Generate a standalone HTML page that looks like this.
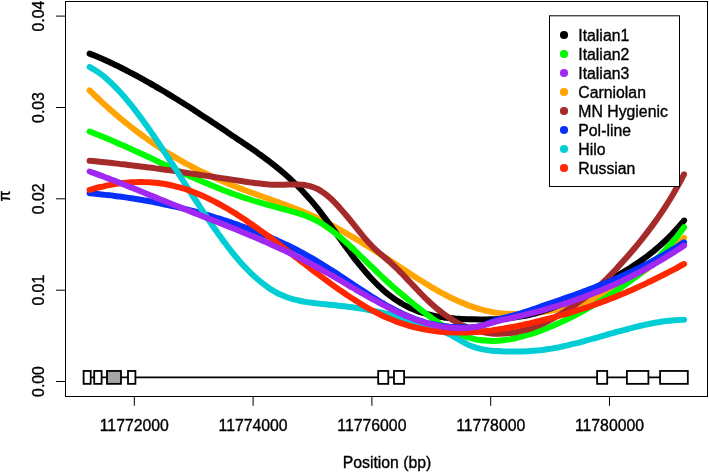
<!DOCTYPE html>
<html><head><meta charset="utf-8"><title>plot</title>
<style>
html,body{margin:0;padding:0;background:#fff;}
svg{display:block;will-change:transform;}
text{font-family:"Liberation Sans",sans-serif;font-size:15.8px;fill:#000;stroke:#000;stroke-width:0.35px;}
</style></head><body>
<svg width="709" height="473" viewBox="0 0 709 473">
<rect width="709" height="473" fill="#fff"/>
<g fill="none" stroke-width="6.0" stroke-linecap="round" stroke-linejoin="round">
<path d="M89.6 90.4C90.6 91.4 93.6 94.3 95.6 96.2C97.6 98.1 99.6 100.0 101.6 101.8C103.6 103.7 105.6 105.5 107.6 107.3C109.6 109.1 111.6 110.8 113.6 112.6C115.6 114.3 117.6 116.0 119.6 117.7C121.6 119.4 123.6 121.0 125.6 122.6C127.6 124.2 129.6 125.8 131.6 127.4C133.6 129.0 135.6 130.5 137.6 132.0C139.6 133.5 141.6 135.0 143.6 136.5C145.6 137.9 147.6 139.4 149.6 140.8C151.6 142.2 153.6 143.6 155.6 144.9C157.6 146.3 159.6 147.6 161.6 148.9C163.6 150.2 165.6 151.5 167.6 152.7C169.6 154.0 171.6 155.2 173.6 156.4C175.6 157.6 177.6 158.7 179.6 159.9C181.6 161.0 183.6 162.2 185.6 163.3C187.6 164.4 189.6 165.4 191.6 166.5C193.6 167.5 195.6 168.6 197.6 169.6C199.6 170.6 201.6 171.6 203.6 172.6C205.6 173.5 207.6 174.5 209.6 175.4C211.6 176.4 213.6 177.3 215.6 178.2C217.6 179.1 219.6 180.0 221.6 180.8C223.6 181.7 225.6 182.5 227.6 183.4C229.6 184.2 231.6 185.0 233.6 185.8C235.6 186.6 237.6 187.4 239.6 188.2C241.6 188.9 243.6 189.7 245.6 190.5C247.6 191.2 249.6 191.9 251.6 192.7C253.6 193.4 255.6 194.1 257.6 194.9C259.6 195.6 261.6 196.3 263.6 197.0C265.6 197.7 267.6 198.4 269.6 199.1C271.6 199.9 273.6 200.6 275.6 201.3C277.6 202.0 279.6 202.8 281.6 203.5C283.6 204.2 285.6 205.0 287.6 205.7C289.6 206.5 291.6 207.2 293.6 208.0C295.6 208.8 297.6 209.6 299.6 210.4C301.6 211.2 303.6 212.0 305.6 212.9C307.6 213.7 309.6 214.6 311.6 215.5C313.6 216.4 315.6 217.3 317.6 218.2C319.6 219.2 321.6 220.1 323.6 221.1C325.6 222.1 327.6 223.1 329.6 224.2C331.6 225.2 333.6 226.3 335.6 227.3C337.6 228.4 339.6 229.5 341.6 230.6C343.6 231.8 345.6 232.9 347.6 234.1C349.6 235.2 351.6 236.4 353.6 237.6C355.6 238.8 357.6 240.0 359.6 241.2C361.6 242.4 363.6 243.6 365.6 244.9C367.6 246.1 369.6 247.4 371.6 248.7C373.6 249.9 375.6 251.2 377.6 252.5C379.6 253.8 381.6 255.1 383.6 256.4C385.6 257.7 387.6 259.0 389.6 260.3C391.6 261.6 393.6 262.9 395.6 264.2C397.6 265.5 399.6 266.9 401.6 268.2C403.6 269.5 405.6 270.8 407.6 272.1C409.6 273.4 411.6 274.7 413.6 276.0C415.6 277.3 417.6 278.6 419.6 279.8C421.6 281.1 423.6 282.3 425.6 283.5C427.6 284.8 429.6 286.0 431.6 287.2C433.6 288.3 435.6 289.5 437.6 290.6C439.6 291.8 441.6 292.9 443.6 293.9C445.6 295.0 447.6 296.1 449.6 297.1C451.6 298.1 453.6 299.0 455.6 300.0C457.6 300.9 459.6 301.8 461.6 302.6C463.6 303.5 465.6 304.3 467.6 305.1C469.6 305.8 471.6 306.5 473.6 307.2C475.6 307.9 477.6 308.5 479.6 309.0C481.6 309.6 483.6 310.1 485.6 310.6C487.6 311.1 489.6 311.5 491.6 311.9C493.6 312.3 495.6 312.6 497.6 312.9C499.6 313.1 501.6 313.4 503.6 313.6C505.6 313.7 507.6 313.9 509.6 314.0C511.6 314.1 513.6 314.1 515.6 314.1C517.6 314.1 519.6 314.1 521.6 314.0C523.6 313.9 525.6 313.8 527.6 313.7C529.6 313.5 531.6 313.4 533.6 313.1C535.6 312.9 537.6 312.7 539.6 312.4C541.6 312.2 543.6 311.9 545.6 311.6C547.6 311.3 549.6 310.9 551.6 310.5C553.6 310.2 555.6 309.8 557.6 309.3C559.6 308.9 561.6 308.5 563.6 308.0C565.6 307.5 567.6 307.0 569.6 306.4C571.6 305.9 573.6 305.3 575.6 304.7C577.6 304.1 579.6 303.5 581.6 302.8C583.6 302.2 585.6 301.5 587.6 300.7C589.6 300.0 591.6 299.3 593.6 298.5C595.6 297.7 597.6 296.8 599.6 296.0C601.6 295.1 603.6 294.2 605.6 293.3C607.6 292.4 609.6 291.4 611.6 290.4C613.6 289.4 615.6 288.4 617.6 287.4C619.6 286.3 621.6 285.2 623.6 284.1C625.6 282.9 627.6 281.7 629.6 280.5C631.6 279.3 633.6 278.1 635.6 276.8C637.6 275.5 639.6 274.2 641.6 272.8C643.6 271.5 645.6 270.1 647.6 268.6C649.6 267.2 651.6 265.7 653.6 264.2C655.6 262.7 657.6 261.1 659.6 259.5C661.6 257.9 663.6 256.3 665.6 254.6C667.6 252.9 669.6 251.2 671.6 249.5C673.6 247.7 675.6 245.9 677.6 244.0C679.6 242.2 682.6 239.4 683.6 238.4C684.6 237.4 683.9 238.1 683.9 238.1" stroke="#FFA400"/>
<path d="M89.6 53.6C90.6 54.0 93.6 55.2 95.6 56.0C97.6 56.9 99.6 57.7 101.6 58.6C103.6 59.5 105.6 60.4 107.6 61.3C109.6 62.2 111.6 63.2 113.6 64.1C115.6 65.1 117.6 66.0 119.6 67.0C121.6 68.0 123.6 69.0 125.6 70.0C127.6 71.0 129.6 72.1 131.6 73.1C133.6 74.2 135.6 75.3 137.6 76.3C139.6 77.4 141.6 78.5 143.6 79.6C145.6 80.7 147.6 81.9 149.6 83.0C151.6 84.1 153.6 85.3 155.6 86.5C157.6 87.6 159.6 88.8 161.6 90.0C163.6 91.2 165.6 92.4 167.6 93.6C169.6 94.8 171.6 96.0 173.6 97.3C175.6 98.5 177.6 99.7 179.6 101.0C181.6 102.2 183.6 103.5 185.6 104.8C187.6 106.0 189.6 107.3 191.6 108.6C193.6 109.9 195.6 111.2 197.6 112.5C199.6 113.8 201.6 115.1 203.6 116.4C205.6 117.7 207.6 119.0 209.6 120.3C211.6 121.7 213.6 123.0 215.6 124.3C217.6 125.7 219.6 127.0 221.6 128.3C223.6 129.7 225.6 131.0 227.6 132.4C229.6 133.7 231.6 135.1 233.6 136.4C235.6 137.8 237.6 139.1 239.6 140.5C241.6 141.8 243.6 143.2 245.6 144.5C247.6 145.9 249.6 147.3 251.6 148.6C253.6 150.0 255.6 151.4 257.6 152.8C259.6 154.3 261.6 155.7 263.6 157.2C265.6 158.6 267.6 160.1 269.6 161.7C271.6 163.2 273.6 164.8 275.6 166.4C277.6 168.0 279.6 169.6 281.6 171.3C283.6 173.0 285.6 174.8 287.6 176.6C289.6 178.4 291.6 180.2 293.6 182.1C295.6 184.0 297.6 186.0 299.6 188.0C301.6 190.1 303.6 192.2 305.6 194.4C307.6 196.6 309.6 198.8 311.6 201.1C313.6 203.5 315.6 205.9 317.6 208.4C319.6 210.9 321.6 213.5 323.6 216.2C325.6 218.8 327.6 221.5 329.6 224.3C331.6 227.0 333.6 229.8 335.6 232.6C337.6 235.4 339.6 238.2 341.6 241.0C343.6 243.8 345.6 246.6 347.6 249.3C349.6 252.0 351.6 254.7 353.6 257.3C355.6 259.9 357.6 262.4 359.6 264.9C361.6 267.4 363.6 269.7 365.6 272.0C367.6 274.3 369.6 276.6 371.6 278.7C373.6 280.8 375.6 282.9 377.6 284.8C379.6 286.8 381.6 288.6 383.6 290.4C385.6 292.2 387.6 293.8 389.6 295.4C391.6 296.9 393.6 298.4 395.6 299.8C397.6 301.1 399.6 302.4 401.6 303.5C403.6 304.7 405.6 305.8 407.6 306.8C409.6 307.8 411.6 308.7 413.6 309.5C415.6 310.4 417.6 311.1 419.6 311.8C421.6 312.5 423.6 313.1 425.6 313.7C427.6 314.3 429.6 314.8 431.6 315.2C433.6 315.7 435.6 316.1 437.6 316.4C439.6 316.8 441.6 317.1 443.6 317.4C445.6 317.6 447.6 317.9 449.6 318.1C451.6 318.3 453.6 318.4 455.6 318.6C457.6 318.7 459.6 318.8 461.6 318.9C463.6 319.0 465.6 319.1 467.6 319.2C469.6 319.2 471.6 319.3 473.6 319.3C475.6 319.4 477.6 319.4 479.6 319.4C481.6 319.5 483.6 319.5 485.6 319.4C487.6 319.4 489.6 319.4 491.6 319.3C493.6 319.3 495.6 319.2 497.6 319.1C499.6 319.0 501.6 318.9 503.6 318.7C505.6 318.5 507.6 318.4 509.6 318.1C511.6 317.9 513.6 317.7 515.6 317.4C517.6 317.1 519.6 316.8 521.6 316.4C523.6 316.1 525.6 315.7 527.6 315.3C529.6 314.8 531.6 314.4 533.6 313.9C535.6 313.3 537.6 312.8 539.6 312.2C541.6 311.6 543.6 310.9 545.6 310.2C547.6 309.6 549.6 308.8 551.6 308.1C553.6 307.3 555.6 306.5 557.6 305.7C559.6 304.8 561.6 304.0 563.6 303.1C565.6 302.2 567.6 301.3 569.6 300.4C571.6 299.4 573.6 298.5 575.6 297.5C577.6 296.6 579.6 295.6 581.6 294.6C583.6 293.6 585.6 292.6 587.6 291.6C589.6 290.6 591.6 289.6 593.6 288.5C595.6 287.5 597.6 286.5 599.6 285.4C601.6 284.3 603.6 283.3 605.6 282.2C607.6 281.1 609.6 280.0 611.6 278.9C613.6 277.7 615.6 276.6 617.6 275.4C619.6 274.3 621.6 273.1 623.6 271.9C625.6 270.7 627.6 269.5 629.6 268.2C631.6 267.0 633.6 265.7 635.6 264.3C637.6 263.0 639.6 261.6 641.6 260.2C643.6 258.8 645.6 257.3 647.6 255.8C649.6 254.3 651.6 252.7 653.6 251.1C655.6 249.4 657.6 247.7 659.6 246.0C661.6 244.2 663.6 242.4 665.6 240.5C667.6 238.6 669.6 236.6 671.6 234.5C673.6 232.4 675.6 230.3 677.6 228.1C679.6 225.8 682.6 222.3 683.6 221.1C684.6 219.8 683.9 220.8 683.9 220.7" stroke="#000000"/>
<path d="M89.6 131.5C90.6 131.9 93.6 133.1 95.6 133.9C97.6 134.6 99.6 135.5 101.6 136.3C103.6 137.1 105.6 137.9 107.6 138.8C109.6 139.6 111.6 140.5 113.6 141.3C115.6 142.2 117.6 143.1 119.6 144.0C121.6 144.8 123.6 145.7 125.6 146.6C127.6 147.5 129.6 148.4 131.6 149.3C133.6 150.2 135.6 151.1 137.6 152.0C139.6 153.0 141.6 153.9 143.6 154.8C145.6 155.7 147.6 156.7 149.6 157.6C151.6 158.5 153.6 159.4 155.6 160.4C157.6 161.3 159.6 162.2 161.6 163.2C163.6 164.1 165.6 165.0 167.6 165.9C169.6 166.9 171.6 167.8 173.6 168.7C175.6 169.6 177.6 170.5 179.6 171.5C181.6 172.4 183.6 173.3 185.6 174.2C187.6 175.1 189.6 176.0 191.6 176.9C193.6 177.7 195.6 178.6 197.6 179.5C199.6 180.4 201.6 181.2 203.6 182.1C205.6 182.9 207.6 183.8 209.6 184.6C211.6 185.4 213.6 186.3 215.6 187.1C217.6 187.9 219.6 188.7 221.6 189.5C223.6 190.2 225.6 191.0 227.6 191.8C229.6 192.5 231.6 193.3 233.6 194.0C235.6 194.7 237.6 195.4 239.6 196.1C241.6 196.8 243.6 197.5 245.6 198.1C247.6 198.8 249.6 199.4 251.6 200.0C253.6 200.7 255.6 201.3 257.6 201.9C259.6 202.5 261.6 203.1 263.6 203.7C265.6 204.2 267.6 204.8 269.6 205.4C271.6 205.9 273.6 206.5 275.6 207.0C277.6 207.5 279.6 208.1 281.6 208.6C283.6 209.1 285.6 209.6 287.6 210.2C289.6 210.7 291.6 211.2 293.6 211.8C295.6 212.4 297.6 213.0 299.6 213.6C301.6 214.3 303.6 215.0 305.6 215.7C307.6 216.5 309.6 217.3 311.6 218.2C313.6 219.2 315.6 220.1 317.6 221.2C319.6 222.3 321.6 223.5 323.6 224.8C325.6 226.1 327.6 227.5 329.6 228.9C331.6 230.4 333.6 231.9 335.6 233.5C337.6 235.1 339.6 236.8 341.6 238.5C343.6 240.2 345.6 242.0 347.6 243.8C349.6 245.6 351.6 247.5 353.6 249.3C355.6 251.2 357.6 253.1 359.6 255.1C361.6 257.0 363.6 258.9 365.6 260.9C367.6 262.8 369.6 264.8 371.6 266.7C373.6 268.7 375.6 270.6 377.6 272.5C379.6 274.5 381.6 276.4 383.6 278.2C385.6 280.1 387.6 282.0 389.6 283.8C391.6 285.6 393.6 287.3 395.6 289.1C397.6 290.8 399.6 292.5 401.6 294.1C403.6 295.8 405.6 297.5 407.6 299.1C409.6 300.7 411.6 302.3 413.6 304.0C415.6 305.6 417.6 307.2 419.6 308.8C421.6 310.4 423.6 311.9 425.6 313.5C427.6 315.0 429.6 316.5 431.6 317.9C433.6 319.4 435.6 320.8 437.6 322.1C439.6 323.5 441.6 324.8 443.6 326.0C445.6 327.2 447.6 328.4 449.6 329.4C451.6 330.5 453.6 331.5 455.6 332.5C457.6 333.4 459.6 334.3 461.6 335.1C463.6 335.9 465.6 336.6 467.6 337.2C469.6 337.8 471.6 338.4 473.6 338.8C475.6 339.3 477.6 339.7 479.6 340.0C481.6 340.3 483.6 340.5 485.6 340.6C487.6 340.8 489.6 340.9 491.6 340.9C493.6 340.9 495.6 340.9 497.6 340.7C499.6 340.6 501.6 340.5 503.6 340.2C505.6 340.0 507.6 339.7 509.6 339.4C511.6 339.0 513.6 338.6 515.6 338.2C517.6 337.8 519.6 337.3 521.6 336.7C523.6 336.2 525.6 335.6 527.6 335.0C529.6 334.4 531.6 333.8 533.6 333.1C535.6 332.4 537.6 331.7 539.6 331.0C541.6 330.3 543.6 329.5 545.6 328.7C547.6 327.9 549.6 327.1 551.6 326.3C553.6 325.4 555.6 324.6 557.6 323.7C559.6 322.8 561.6 321.9 563.6 320.9C565.6 320.0 567.6 319.0 569.6 318.0C571.6 317.0 573.6 316.0 575.6 315.0C577.6 313.9 579.6 312.9 581.6 311.8C583.6 310.7 585.6 309.6 587.6 308.4C589.6 307.3 591.6 306.2 593.6 305.0C595.6 303.8 597.6 302.6 599.6 301.4C601.6 300.2 603.6 298.9 605.6 297.7C607.6 296.4 609.6 295.1 611.6 293.8C613.6 292.5 615.6 291.2 617.6 289.8C619.6 288.5 621.6 287.1 623.6 285.7C625.6 284.3 627.6 282.9 629.6 281.5C631.6 280.0 633.6 278.5 635.6 277.0C637.6 275.5 639.6 273.9 641.6 272.3C643.6 270.6 645.6 269.0 647.6 267.2C649.6 265.5 651.6 263.7 653.6 261.8C655.6 260.0 657.6 258.0 659.6 256.0C661.6 254.0 663.6 252.0 665.6 249.8C667.6 247.6 669.6 245.4 671.6 243.0C673.6 240.7 675.6 238.3 677.6 235.8C679.6 233.2 682.6 229.2 683.6 227.9C684.6 226.5 683.9 227.5 683.9 227.5" stroke="#00FA00"/>
<path d="M89.6 160.8C90.6 160.9 93.6 161.2 95.6 161.3C97.6 161.5 99.6 161.7 101.6 161.9C103.6 162.1 105.6 162.3 107.6 162.5C109.6 162.7 111.6 163.0 113.6 163.2C115.6 163.4 117.6 163.6 119.6 163.9C121.6 164.1 123.6 164.3 125.6 164.5C127.6 164.8 129.6 165.0 131.6 165.3C133.6 165.5 135.6 165.8 137.6 166.0C139.6 166.3 141.6 166.5 143.6 166.8C145.6 167.1 147.6 167.3 149.6 167.6C151.6 167.8 153.6 168.1 155.6 168.4C157.6 168.7 159.6 168.9 161.6 169.2C163.6 169.5 165.6 169.8 167.6 170.1C169.6 170.3 171.6 170.6 173.6 170.9C175.6 171.2 177.6 171.5 179.6 171.8C181.6 172.1 183.6 172.4 185.6 172.7C187.6 173.0 189.6 173.3 191.6 173.6C193.6 173.9 195.6 174.2 197.6 174.5C199.6 174.8 201.6 175.1 203.6 175.4C205.6 175.7 207.6 176.0 209.6 176.3C211.6 176.6 213.6 176.9 215.6 177.2C217.6 177.5 219.6 177.8 221.6 178.1C223.6 178.4 225.6 178.7 227.6 179.0C229.6 179.3 231.6 179.6 233.6 179.9C235.6 180.2 237.6 180.5 239.6 180.8C241.6 181.1 243.6 181.4 245.6 181.7C247.6 182.0 249.6 182.3 251.6 182.6C253.6 182.8 255.6 183.1 257.6 183.3C259.6 183.6 261.6 183.8 263.6 184.0C265.6 184.2 267.6 184.3 269.6 184.5C271.6 184.6 273.6 184.7 275.6 184.8C277.6 184.8 279.6 184.8 281.6 184.8C283.6 184.8 285.6 184.7 287.6 184.6C289.6 184.6 291.6 184.5 293.6 184.5C295.6 184.5 297.6 184.4 299.6 184.6C301.6 184.7 303.6 184.8 305.6 185.2C307.6 185.5 309.6 185.9 311.6 186.6C313.6 187.2 315.6 188.0 317.6 189.0C319.6 190.1 321.6 191.3 323.6 192.8C325.6 194.2 327.6 195.8 329.6 197.6C331.6 199.4 333.6 201.4 335.6 203.4C337.6 205.5 339.6 207.7 341.6 209.9C343.6 212.2 345.6 214.6 347.6 217.0C349.6 219.4 351.6 221.9 353.6 224.4C355.6 226.9 357.6 229.4 359.6 231.9C361.6 234.3 363.6 236.8 365.6 239.1C367.6 241.4 369.6 243.7 371.6 245.7C373.6 247.8 375.6 249.6 377.6 251.4C379.6 253.2 381.6 254.8 383.6 256.5C385.6 258.3 387.6 259.9 389.6 261.7C391.6 263.5 393.6 265.4 395.6 267.3C397.6 269.2 399.6 271.3 401.6 273.3C403.6 275.4 405.6 277.5 407.6 279.6C409.6 281.7 411.6 283.8 413.6 285.9C415.6 288.0 417.6 290.1 419.6 292.2C421.6 294.3 423.6 296.3 425.6 298.3C427.6 300.2 429.6 302.2 431.6 304.0C433.6 305.8 435.6 307.5 437.6 309.2C439.6 310.8 441.6 312.4 443.6 313.9C445.6 315.4 447.6 316.7 449.6 318.0C451.6 319.4 453.6 320.6 455.6 321.7C457.6 322.9 459.6 323.9 461.6 324.9C463.6 325.8 465.6 326.7 467.6 327.5C469.6 328.3 471.6 329.1 473.6 329.7C475.6 330.4 477.6 330.9 479.6 331.4C481.6 331.9 483.6 332.3 485.6 332.6C487.6 333.0 489.6 333.2 491.6 333.4C493.6 333.6 495.6 333.7 497.6 333.7C499.6 333.8 501.6 333.7 503.6 333.6C505.6 333.5 507.6 333.4 509.6 333.1C511.6 332.9 513.6 332.6 515.6 332.2C517.6 331.9 519.6 331.4 521.6 330.9C523.6 330.4 525.6 329.9 527.6 329.3C529.6 328.7 531.6 328.0 533.6 327.3C535.6 326.5 537.6 325.7 539.6 324.9C541.6 324.1 543.6 323.2 545.6 322.2C547.6 321.3 549.6 320.3 551.6 319.2C553.6 318.2 555.6 317.1 557.6 315.9C559.6 314.8 561.6 313.6 563.6 312.4C565.6 311.1 567.6 309.9 569.6 308.5C571.6 307.2 573.6 305.9 575.6 304.5C577.6 303.1 579.6 301.7 581.6 300.2C583.6 298.7 585.6 297.3 587.6 295.7C589.6 294.2 591.6 292.6 593.6 290.9C595.6 289.2 597.6 287.5 599.6 285.7C601.6 283.8 603.6 281.9 605.6 280.0C607.6 278.0 609.6 275.9 611.6 273.8C613.6 271.7 615.6 269.6 617.6 267.4C619.6 265.3 621.6 263.1 623.6 260.8C625.6 258.6 627.6 256.3 629.6 254.0C631.6 251.7 633.6 249.4 635.6 247.0C637.6 244.6 639.6 242.1 641.6 239.6C643.6 237.1 645.6 234.6 647.6 231.9C649.6 229.3 651.6 226.6 653.6 223.9C655.6 221.1 657.6 218.3 659.6 215.3C661.6 212.4 663.6 209.4 665.6 206.3C667.6 203.2 669.6 200.0 671.6 196.7C673.6 193.4 675.6 189.9 677.6 186.3C679.6 182.8 682.6 177.2 683.6 175.2C684.6 173.3 683.9 174.7 683.9 174.6" stroke="#A52A2A"/>
<path d="M89.6 193.3C90.6 193.3 93.6 193.6 95.6 193.8C97.6 194.0 99.6 194.2 101.6 194.4C103.6 194.6 105.6 194.8 107.6 195.1C109.6 195.3 111.6 195.5 113.6 195.8C115.6 196.0 117.6 196.3 119.6 196.5C121.6 196.8 123.6 197.1 125.6 197.4C127.6 197.7 129.6 198.0 131.6 198.3C133.6 198.6 135.6 198.9 137.6 199.2C139.6 199.6 141.6 199.9 143.6 200.3C145.6 200.6 147.6 201.0 149.6 201.3C151.6 201.7 153.6 202.1 155.6 202.5C157.6 202.9 159.6 203.3 161.6 203.7C163.6 204.1 165.6 204.5 167.6 205.0C169.6 205.4 171.6 205.8 173.6 206.3C175.6 206.7 177.6 207.2 179.6 207.7C181.6 208.2 183.6 208.7 185.6 209.2C187.6 209.7 189.6 210.2 191.6 210.7C193.6 211.2 195.6 211.8 197.6 212.3C199.6 212.8 201.6 213.4 203.6 214.0C205.6 214.5 207.6 215.1 209.6 215.7C211.6 216.3 213.6 216.9 215.6 217.5C217.6 218.1 219.6 218.8 221.6 219.4C223.6 220.0 225.6 220.7 227.6 221.3C229.6 222.0 231.6 222.7 233.6 223.4C235.6 224.0 237.6 224.7 239.6 225.5C241.6 226.2 243.6 226.9 245.6 227.6C247.6 228.3 249.6 229.1 251.6 229.9C253.6 230.6 255.6 231.4 257.6 232.2C259.6 233.0 261.6 233.8 263.6 234.6C265.6 235.4 267.6 236.3 269.6 237.1C271.6 238.0 273.6 238.8 275.6 239.7C277.6 240.6 279.6 241.5 281.6 242.5C283.6 243.4 285.6 244.3 287.6 245.3C289.6 246.3 291.6 247.3 293.6 248.3C295.6 249.3 297.6 250.3 299.6 251.4C301.6 252.4 303.6 253.5 305.6 254.6C307.6 255.7 309.6 256.8 311.6 258.0C313.6 259.1 315.6 260.3 317.6 261.5C319.6 262.7 321.6 263.9 323.6 265.2C325.6 266.4 327.6 267.7 329.6 269.0C331.6 270.2 333.6 271.5 335.6 272.8C337.6 274.1 339.6 275.5 341.6 276.8C343.6 278.1 345.6 279.4 347.6 280.8C349.6 282.1 351.6 283.4 353.6 284.8C355.6 286.1 357.6 287.4 359.6 288.7C361.6 290.0 363.6 291.3 365.6 292.6C367.6 293.9 369.6 295.2 371.6 296.5C373.6 297.7 375.6 299.0 377.6 300.2C379.6 301.4 381.6 302.6 383.6 303.7C385.6 304.9 387.6 306.0 389.6 307.1C391.6 308.2 393.6 309.3 395.6 310.3C397.6 311.4 399.6 312.3 401.6 313.3C403.6 314.2 405.6 315.2 407.6 316.0C409.6 316.9 411.6 317.7 413.6 318.5C415.6 319.2 417.6 320.0 419.6 320.6C421.6 321.3 423.6 321.9 425.6 322.5C427.6 323.1 429.6 323.6 431.6 324.0C433.6 324.5 435.6 324.8 437.6 325.2C439.6 325.5 441.6 325.8 443.6 326.1C445.6 326.3 447.6 326.5 449.6 326.7C451.6 326.8 453.6 327.0 455.6 327.1C457.6 327.2 459.6 327.2 461.6 327.3C463.6 327.3 465.6 327.4 467.6 327.4C469.6 327.4 471.6 327.5 473.6 327.3C475.6 327.1 477.6 326.9 479.6 326.4C481.6 325.9 483.6 325.1 485.6 324.3C487.6 323.5 489.6 322.5 491.6 321.7C493.6 320.9 495.6 320.0 497.6 319.4C499.6 318.8 501.6 318.4 503.6 317.9C505.6 317.4 507.6 317.0 509.6 316.4C511.6 315.9 513.6 315.4 515.6 314.8C517.6 314.2 519.6 313.6 521.6 313.0C523.6 312.3 525.6 311.7 527.6 311.0C529.6 310.4 531.6 309.7 533.6 309.0C535.6 308.4 537.6 307.7 539.6 307.0C541.6 306.3 543.6 305.6 545.6 304.9C547.6 304.2 549.6 303.6 551.6 302.9C553.6 302.2 555.6 301.5 557.6 300.8C559.6 300.1 561.6 299.4 563.6 298.7C565.6 298.0 567.6 297.3 569.6 296.6C571.6 295.9 573.6 295.2 575.6 294.5C577.6 293.7 579.6 293.0 581.6 292.3C583.6 291.5 585.6 290.8 587.6 290.0C589.6 289.3 591.6 288.5 593.6 287.8C595.6 287.0 597.6 286.2 599.6 285.4C601.6 284.6 603.6 283.8 605.6 283.0C607.6 282.2 609.6 281.4 611.6 280.5C613.6 279.7 615.6 278.8 617.6 277.9C619.6 277.1 621.6 276.2 623.6 275.3C625.6 274.4 627.6 273.5 629.6 272.6C631.6 271.6 633.6 270.7 635.6 269.7C637.6 268.7 639.6 267.8 641.6 266.8C643.6 265.8 645.6 264.7 647.6 263.7C649.6 262.6 651.6 261.6 653.6 260.5C655.6 259.4 657.6 258.3 659.6 257.2C661.6 256.1 663.6 254.9 665.6 253.7C667.6 252.6 669.6 251.4 671.6 250.1C673.6 248.9 675.6 247.7 677.6 246.4C679.6 245.1 682.6 243.2 683.6 242.5C684.6 241.8 683.9 242.4 683.9 242.3" stroke="#0830FC"/>
<path d="M89.6 67.0C90.6 67.6 93.6 69.2 95.6 70.5C97.6 71.7 99.6 73.2 101.6 74.7C103.6 76.2 105.6 77.9 107.6 79.7C109.6 81.4 111.6 83.3 113.6 85.3C115.6 87.3 117.6 89.4 119.6 91.5C121.6 93.7 123.6 96.0 125.6 98.3C127.6 100.7 129.6 103.1 131.6 105.6C133.6 108.1 135.6 110.7 137.6 113.3C139.6 116.0 141.6 118.7 143.6 121.5C145.6 124.2 147.6 127.1 149.6 129.9C151.6 132.8 153.6 135.7 155.6 138.7C157.6 141.6 159.6 144.6 161.6 147.6C163.6 150.6 165.6 153.7 167.6 156.8C169.6 159.8 171.6 162.9 173.6 166.0C175.6 169.1 177.6 172.2 179.6 175.3C181.6 178.4 183.6 181.6 185.6 184.7C187.6 187.8 189.6 190.9 191.6 194.0C193.6 197.1 195.6 200.2 197.6 203.2C199.6 206.3 201.6 209.3 203.6 212.4C205.6 215.4 207.6 218.4 209.6 221.3C211.6 224.2 213.6 227.2 215.6 230.0C217.6 232.9 219.6 235.7 221.6 238.4C223.6 241.2 225.6 243.8 227.6 246.5C229.6 249.1 231.6 251.6 233.6 254.1C235.6 256.5 237.6 258.9 239.6 261.2C241.6 263.5 243.6 265.7 245.6 267.8C247.6 269.9 249.6 271.9 251.6 273.9C253.6 275.8 255.6 277.6 257.6 279.3C259.6 281.0 261.6 282.7 263.6 284.2C265.6 285.7 267.6 287.1 269.6 288.5C271.6 289.8 273.6 291.0 275.6 292.1C277.6 293.2 279.6 294.2 281.6 295.1C283.6 296.0 285.6 296.8 287.6 297.5C289.6 298.2 291.6 298.8 293.6 299.4C295.6 299.9 297.6 300.4 299.6 300.8C301.6 301.2 303.6 301.6 305.6 301.9C307.6 302.2 309.6 302.5 311.6 302.7C313.6 303.0 315.6 303.2 317.6 303.4C319.6 303.6 321.6 303.8 323.6 304.1C325.6 304.3 327.6 304.5 329.6 304.7C331.6 304.9 333.6 305.1 335.6 305.3C337.6 305.5 339.6 305.8 341.6 306.0C343.6 306.2 345.6 306.5 347.6 306.7C349.6 307.0 351.6 307.2 353.6 307.5C355.6 307.8 357.6 308.1 359.6 308.4C361.6 308.7 363.6 309.1 365.6 309.4C367.6 309.8 369.6 310.2 371.6 310.6C373.6 310.9 375.6 311.4 377.6 311.8C379.6 312.2 381.6 312.6 383.6 313.1C385.6 313.6 387.6 314.0 389.6 314.5C391.6 315.0 393.6 315.5 395.6 316.0C397.6 316.6 399.6 317.1 401.6 317.7C403.6 318.2 405.6 318.8 407.6 319.4C409.6 320.0 411.6 320.6 413.6 321.2C415.6 321.8 417.6 322.4 419.6 323.1C421.6 323.7 423.6 324.3 425.6 325.0C427.6 325.7 429.6 326.4 431.6 327.0C433.6 327.7 435.6 328.4 437.6 329.2C439.6 329.9 441.6 330.7 443.6 331.6C445.6 332.4 447.6 333.4 449.6 334.4C451.6 335.4 453.6 336.6 455.6 337.7C457.6 338.9 459.6 340.1 461.6 341.2C463.6 342.3 465.6 343.4 467.6 344.4C469.6 345.3 471.6 346.2 473.6 346.9C475.6 347.6 477.6 348.2 479.6 348.7C481.6 349.2 483.6 349.6 485.6 349.9C487.6 350.2 489.6 350.5 491.6 350.7C493.6 350.9 495.6 351.0 497.6 351.1C499.6 351.3 501.6 351.3 503.6 351.4C505.6 351.5 507.6 351.5 509.6 351.5C511.6 351.6 513.6 351.6 515.6 351.6C517.6 351.6 519.6 351.5 521.6 351.5C523.6 351.4 525.6 351.3 527.6 351.2C529.6 351.1 531.6 351.0 533.6 350.8C535.6 350.7 537.6 350.5 539.6 350.3C541.6 350.0 543.6 349.8 545.6 349.5C547.6 349.2 549.6 348.9 551.6 348.6C553.6 348.2 555.6 347.8 557.6 347.5C559.6 347.1 561.6 346.6 563.6 346.2C565.6 345.8 567.6 345.3 569.6 344.8C571.6 344.4 573.6 343.9 575.6 343.4C577.6 342.9 579.6 342.4 581.6 341.8C583.6 341.3 585.6 340.8 587.6 340.2C589.6 339.7 591.6 339.1 593.6 338.5C595.6 338.0 597.6 337.4 599.6 336.8C601.6 336.3 603.6 335.7 605.6 335.1C607.6 334.5 609.6 334.0 611.6 333.4C613.6 332.8 615.6 332.3 617.6 331.7C619.6 331.1 621.6 330.6 623.6 330.1C625.6 329.5 627.6 329.0 629.6 328.5C631.6 327.9 633.6 327.4 635.6 326.9C637.6 326.4 639.6 326.0 641.6 325.5C643.6 325.1 645.6 324.6 647.6 324.2C649.6 323.8 651.6 323.4 653.6 323.0C655.6 322.7 657.6 322.3 659.6 322.0C661.6 321.7 663.6 321.4 665.6 321.1C667.6 320.9 669.6 320.6 671.6 320.4C673.6 320.2 675.6 320.1 677.6 320.0C679.6 319.8 682.6 319.7 683.6 319.7C684.6 319.6 683.9 319.7 683.9 319.7" stroke="#00CED4"/>
<path d="M89.6 189.9C90.6 189.6 93.6 188.8 95.6 188.2C97.6 187.7 99.6 187.2 101.6 186.8C103.6 186.3 105.6 185.9 107.6 185.4C109.6 185.0 111.6 184.7 113.6 184.3C115.6 184.0 117.6 183.7 119.6 183.4C121.6 183.2 123.6 182.9 125.6 182.7C127.6 182.5 129.6 182.4 131.6 182.2C133.6 182.1 135.6 182.0 137.6 182.0C139.6 181.9 141.6 181.9 143.6 182.0C145.6 182.0 147.6 182.1 149.6 182.2C151.6 182.3 153.6 182.5 155.6 182.7C157.6 182.9 159.6 183.2 161.6 183.5C163.6 183.8 165.6 184.1 167.6 184.5C169.6 184.9 171.6 185.3 173.6 185.8C175.6 186.3 177.6 186.8 179.6 187.4C181.6 188.0 183.6 188.6 185.6 189.2C187.6 189.9 189.6 190.6 191.6 191.4C193.6 192.1 195.6 192.9 197.6 193.7C199.6 194.5 201.6 195.4 203.6 196.3C205.6 197.2 207.6 198.1 209.6 199.1C211.6 200.1 213.6 201.1 215.6 202.1C217.6 203.2 219.6 204.3 221.6 205.4C223.6 206.5 225.6 207.6 227.6 208.8C229.6 210.0 231.6 211.2 233.6 212.4C235.6 213.6 237.6 214.9 239.6 216.2C241.6 217.5 243.6 218.8 245.6 220.1C247.6 221.5 249.6 222.8 251.6 224.2C253.6 225.6 255.6 227.0 257.6 228.4C259.6 229.9 261.6 231.3 263.6 232.8C265.6 234.2 267.6 235.7 269.6 237.2C271.6 238.7 273.6 240.2 275.6 241.7C277.6 243.2 279.6 244.7 281.6 246.3C283.6 247.8 285.6 249.3 287.6 250.9C289.6 252.4 291.6 253.9 293.6 255.5C295.6 257.0 297.6 258.6 299.6 260.1C301.6 261.7 303.6 263.2 305.6 264.7C307.6 266.3 309.6 267.8 311.6 269.3C313.6 270.9 315.6 272.4 317.6 273.9C319.6 275.4 321.6 276.9 323.6 278.4C325.6 279.9 327.6 281.4 329.6 282.8C331.6 284.3 333.6 285.7 335.6 287.1C337.6 288.6 339.6 290.0 341.6 291.3C343.6 292.7 345.6 294.1 347.6 295.4C349.6 296.8 351.6 298.1 353.6 299.3C355.6 300.6 357.6 301.9 359.6 303.1C361.6 304.3 363.6 305.5 365.6 306.7C367.6 307.9 369.6 309.0 371.6 310.1C373.6 311.2 375.6 312.2 377.6 313.2C379.6 314.3 381.6 315.2 383.6 316.2C385.6 317.1 387.6 318.0 389.6 318.8C391.6 319.7 393.6 320.5 395.6 321.3C397.6 322.0 399.6 322.7 401.6 323.4C403.6 324.1 405.6 324.7 407.6 325.3C409.6 325.9 411.6 326.5 413.6 327.0C415.6 327.5 417.6 328.0 419.6 328.4C421.6 328.8 423.6 329.2 425.6 329.6C427.6 330.0 429.6 330.3 431.6 330.6C433.6 330.9 435.6 331.1 437.6 331.4C439.6 331.6 441.6 331.8 443.6 331.9C445.6 332.1 447.6 332.2 449.6 332.3C451.6 332.4 453.6 332.5 455.6 332.5C457.6 332.6 459.6 332.6 461.6 332.5C463.6 332.5 465.6 332.5 467.6 332.4C469.6 332.3 471.6 332.2 473.6 332.1C475.6 332.0 477.6 331.8 479.6 331.7C481.6 331.5 483.6 331.3 485.6 331.1C487.6 330.9 489.6 330.6 491.6 330.4C493.6 330.1 495.6 329.8 497.6 329.5C499.6 329.2 501.6 328.9 503.6 328.6C505.6 328.2 507.6 327.9 509.6 327.5C511.6 327.1 513.6 326.8 515.6 326.4C517.6 326.0 519.6 325.5 521.6 325.1C523.6 324.7 525.6 324.2 527.6 323.8C529.6 323.3 531.6 322.9 533.6 322.4C535.6 321.9 537.6 321.4 539.6 320.9C541.6 320.4 543.6 319.9 545.6 319.4C547.6 318.9 549.6 318.4 551.6 317.9C553.6 317.3 555.6 316.8 557.6 316.2C559.6 315.7 561.6 315.1 563.6 314.5C565.6 314.0 567.6 313.4 569.6 312.8C571.6 312.2 573.6 311.6 575.6 310.9C577.6 310.3 579.6 309.7 581.6 309.0C583.6 308.4 585.6 307.7 587.6 307.1C589.6 306.4 591.6 305.7 593.6 305.0C595.6 304.3 597.6 303.6 599.6 302.9C601.6 302.2 603.6 301.4 605.6 300.7C607.6 299.9 609.6 299.1 611.6 298.3C613.6 297.6 615.6 296.8 617.6 295.9C619.6 295.1 621.6 294.3 623.6 293.4C625.6 292.6 627.6 291.7 629.6 290.9C631.6 290.0 633.6 289.1 635.6 288.2C637.6 287.3 639.6 286.4 641.6 285.4C643.6 284.5 645.6 283.6 647.6 282.6C649.6 281.7 651.6 280.7 653.6 279.7C655.6 278.7 657.6 277.7 659.6 276.7C661.6 275.7 663.6 274.7 665.6 273.7C667.6 272.7 669.6 271.7 671.6 270.6C673.6 269.6 675.6 268.5 677.6 267.5C679.6 266.4 682.6 264.8 683.6 264.3C684.6 263.7 683.9 264.1 683.9 264.1" stroke="#FF2600"/>
<path d="M89.6 171.5C90.6 171.8 93.6 172.9 95.6 173.6C97.6 174.4 99.6 175.1 101.6 175.8C103.6 176.6 105.6 177.3 107.6 178.1C109.6 178.9 111.6 179.6 113.6 180.4C115.6 181.2 117.6 182.0 119.6 182.8C121.6 183.6 123.6 184.4 125.6 185.2C127.6 186.0 129.6 186.8 131.6 187.6C133.6 188.4 135.6 189.2 137.6 190.0C139.6 190.9 141.6 191.7 143.6 192.5C145.6 193.3 147.6 194.1 149.6 195.0C151.6 195.8 153.6 196.6 155.6 197.4C157.6 198.2 159.6 199.1 161.6 199.9C163.6 200.7 165.6 201.5 167.6 202.3C169.6 203.1 171.6 203.9 173.6 204.7C175.6 205.5 177.6 206.3 179.6 207.1C181.6 207.9 183.6 208.7 185.6 209.5C187.6 210.3 189.6 211.1 191.6 211.9C193.6 212.7 195.6 213.5 197.6 214.2C199.6 215.0 201.6 215.8 203.6 216.6C205.6 217.4 207.6 218.2 209.6 219.0C211.6 219.8 213.6 220.5 215.6 221.3C217.6 222.1 219.6 222.9 221.6 223.7C223.6 224.5 225.6 225.3 227.6 226.1C229.6 226.9 231.6 227.7 233.6 228.5C235.6 229.4 237.6 230.2 239.6 231.0C241.6 231.8 243.6 232.6 245.6 233.5C247.6 234.3 249.6 235.1 251.6 236.0C253.6 236.8 255.6 237.7 257.6 238.5C259.6 239.4 261.6 240.3 263.6 241.1C265.6 242.0 267.6 242.9 269.6 243.8C271.6 244.7 273.6 245.6 275.6 246.5C277.6 247.4 279.6 248.3 281.6 249.3C283.6 250.2 285.6 251.1 287.6 252.1C289.6 253.0 291.6 254.0 293.6 255.0C295.6 256.0 297.6 257.0 299.6 258.0C301.6 259.0 303.6 260.0 305.6 261.1C307.6 262.1 309.6 263.1 311.6 264.2C313.6 265.3 315.6 266.4 317.6 267.5C319.6 268.6 321.6 269.7 323.6 270.8C325.6 271.9 327.6 273.1 329.6 274.2C331.6 275.4 333.6 276.5 335.6 277.7C337.6 278.9 339.6 280.0 341.6 281.2C343.6 282.4 345.6 283.6 347.6 284.8C349.6 285.9 351.6 287.1 353.6 288.3C355.6 289.5 357.6 290.6 359.6 291.8C361.6 292.9 363.6 294.1 365.6 295.2C367.6 296.4 369.6 297.5 371.6 298.6C373.6 299.7 375.6 300.9 377.6 301.9C379.6 303.0 381.6 304.1 383.6 305.1C385.6 306.2 387.6 307.2 389.6 308.2C391.6 309.2 393.6 310.2 395.6 311.1C397.6 312.1 399.6 313.0 401.6 313.9C403.6 314.7 405.6 315.6 407.6 316.4C409.6 317.2 411.6 318.0 413.6 318.8C415.6 319.5 417.6 320.2 419.6 320.9C421.6 321.6 423.6 322.2 425.6 322.8C427.6 323.4 429.6 323.9 431.6 324.4C433.6 325.0 435.6 325.4 437.6 325.8C439.6 326.2 441.6 326.6 443.6 326.9C445.6 327.2 447.6 327.4 449.6 327.6C451.6 327.8 453.6 328.0 455.6 328.1C457.6 328.2 459.6 328.2 461.6 328.2C463.6 328.1 465.6 328.0 467.6 327.9C469.6 327.7 471.6 327.5 473.6 327.2C475.6 326.9 477.6 326.6 479.6 326.2C481.6 325.7 483.6 325.2 485.6 324.7C487.6 324.1 489.6 323.5 491.6 322.9C493.6 322.3 495.6 321.6 497.6 321.1C499.6 320.6 501.6 320.2 503.6 319.7C505.6 319.2 507.6 318.8 509.6 318.4C511.6 317.9 513.6 317.5 515.6 317.0C517.6 316.5 519.6 316.1 521.6 315.6C523.6 315.1 525.6 314.7 527.6 314.2C529.6 313.7 531.6 313.2 533.6 312.7C535.6 312.2 537.6 311.6 539.6 311.1C541.6 310.6 543.6 310.0 545.6 309.5C547.6 308.9 549.6 308.3 551.6 307.7C553.6 307.2 555.6 306.6 557.6 305.9C559.6 305.3 561.6 304.7 563.6 304.1C565.6 303.4 567.6 302.8 569.6 302.1C571.6 301.4 573.6 300.7 575.6 300.0C577.6 299.3 579.6 298.6 581.6 297.9C583.6 297.2 585.6 296.4 587.6 295.7C589.6 294.9 591.6 294.1 593.6 293.3C595.6 292.5 597.6 291.7 599.6 290.9C601.6 290.1 603.6 289.2 605.6 288.4C607.6 287.5 609.6 286.7 611.6 285.8C613.6 284.9 615.6 284.0 617.6 283.0C619.6 282.1 621.6 281.2 623.6 280.2C625.6 279.3 627.6 278.3 629.6 277.3C631.6 276.3 633.6 275.3 635.6 274.3C637.6 273.2 639.6 272.2 641.6 271.1C643.6 270.0 645.6 269.0 647.6 267.9C649.6 266.8 651.6 265.6 653.6 264.5C655.6 263.3 657.6 262.2 659.6 261.0C661.6 259.8 663.6 258.6 665.6 257.4C667.6 256.2 669.6 254.9 671.6 253.7C673.6 252.4 675.6 251.1 677.6 249.8C679.6 248.5 682.6 246.6 683.6 245.9C684.6 245.2 683.9 245.7 683.9 245.7" stroke="#A028F0"/>
</g>
<line x1="84" y1="377.4" x2="688" y2="377.4" stroke="#000" stroke-width="1.7"/>
<rect x="83.60" y="370.95" width="7.10" height="12.9" fill="#fff" stroke="#000" stroke-width="1.8"/>
<rect x="94.20" y="370.95" width="7.40" height="12.9" fill="#fff" stroke="#000" stroke-width="1.8"/>
<rect x="107.00" y="370.95" width="14.00" height="12.9" fill="#a5a5a5" stroke="#000" stroke-width="1.8"/>
<rect x="128.00" y="370.95" width="7.40" height="12.9" fill="#fff" stroke="#000" stroke-width="1.8"/>
<rect x="378.20" y="370.95" width="10.10" height="12.9" fill="#fff" stroke="#000" stroke-width="1.8"/>
<rect x="394.00" y="370.95" width="10.10" height="12.9" fill="#fff" stroke="#000" stroke-width="1.8"/>
<rect x="597.10" y="370.95" width="10.10" height="12.9" fill="#fff" stroke="#000" stroke-width="1.8"/>
<rect x="626.90" y="370.95" width="21.50" height="12.9" fill="#fff" stroke="#000" stroke-width="1.8"/>
<rect x="660.10" y="370.95" width="27.70" height="12.9" fill="#fff" stroke="#000" stroke-width="1.8"/>

<rect x="65.5" y="1.5" width="642" height="395" fill="none" stroke="#000" stroke-width="1"/>
<g stroke="#000" stroke-width="1"><line x1="134.3" y1="396.5" x2="134.3" y2="405.8"/><line x1="253.1" y1="396.5" x2="253.1" y2="405.8"/><line x1="371.9" y1="396.5" x2="371.9" y2="405.8"/><line x1="490.7" y1="396.5" x2="490.7" y2="405.8"/><line x1="609.5" y1="396.5" x2="609.5" y2="405.8"/><line x1="56" y1="381.5" x2="65.5" y2="381.5"/><line x1="56" y1="290.2" x2="65.5" y2="290.2"/><line x1="56" y1="198.8" x2="65.5" y2="198.8"/><line x1="56" y1="107.5" x2="65.5" y2="107.5"/><line x1="56" y1="16.1" x2="65.5" y2="16.1"/></g>
<rect x="549.5" y="15.8" width="130" height="170.7" fill="#fff" stroke="#000" stroke-width="1"/>
<circle cx="564" cy="35.0" r="4.1" fill="#000000"/><text x="578.3" y="41.0">Italian1</text>
<circle cx="564" cy="54.0" r="4.1" fill="#00FA00"/><text x="578.3" y="60.0">Italian2</text>
<circle cx="564" cy="73.0" r="4.1" fill="#A028F0"/><text x="578.3" y="79.0">Italian3</text>
<circle cx="564" cy="92.0" r="4.1" fill="#FFA400"/><text x="578.3" y="98.0">Carniolan</text>
<circle cx="564" cy="111.0" r="4.1" fill="#A52A2A"/><text x="578.3" y="117.0">MN Hygienic</text>
<circle cx="564" cy="130.0" r="4.1" fill="#0830FC"/><text x="578.3" y="136.0">Pol-line</text>
<circle cx="564" cy="149.0" r="4.1" fill="#00CED4"/><text x="578.3" y="155.0">Hilo</text>
<circle cx="564" cy="168.0" r="4.1" fill="#FF2600"/><text x="578.3" y="174.0">Russian</text>

<text x="134.3" y="430.7" text-anchor="middle">11772000</text>
<text x="253.1" y="430.7" text-anchor="middle">11774000</text>
<text x="371.9" y="430.7" text-anchor="middle">11776000</text>
<text x="490.7" y="430.7" text-anchor="middle">11778000</text>
<text x="609.5" y="430.7" text-anchor="middle">11780000</text>
<text transform="translate(43.8 381.5) rotate(-90)" text-anchor="middle">0.00</text>
<text transform="translate(43.8 290.2) rotate(-90)" text-anchor="middle">0.01</text>
<text transform="translate(43.8 198.8) rotate(-90)" text-anchor="middle">0.02</text>
<text transform="translate(43.8 107.5) rotate(-90)" text-anchor="middle">0.03</text>
<text transform="translate(43.8 16.1) rotate(-90)" text-anchor="middle">0.04</text>

<text x="387" y="468.3" text-anchor="middle">Position (bp)</text>
<text transform="translate(9.5 196) rotate(-90)" text-anchor="middle">π</text>
</svg>
</body></html>
